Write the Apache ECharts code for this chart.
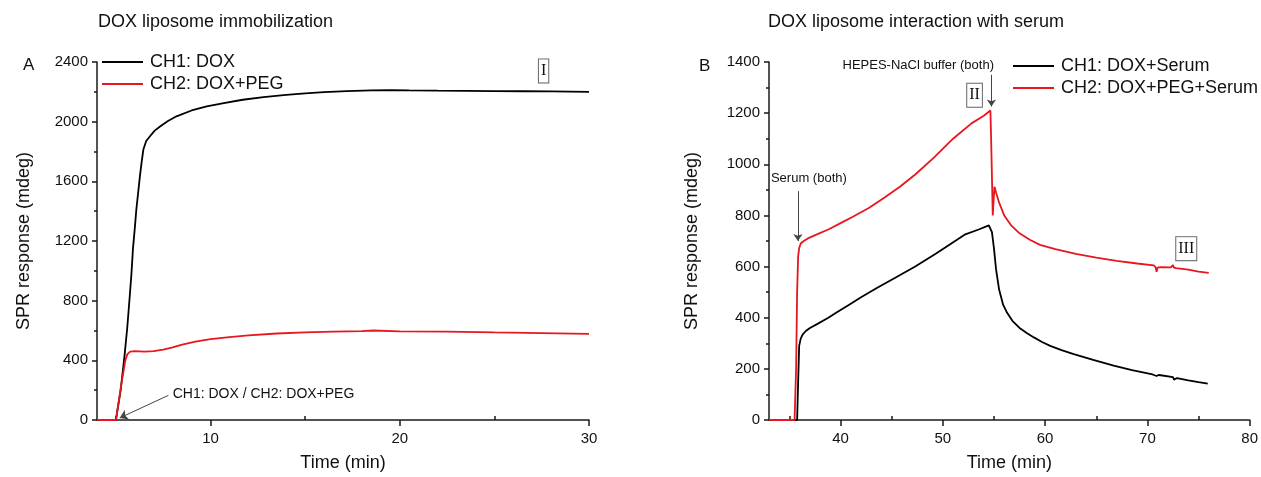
<!DOCTYPE html>
<html>
<head>
<meta charset="utf-8">
<script src="https://cdn.jsdelivr.net/npm/echarts@6/dist/echarts.min.js"></script>
<style>
html,body{margin:0;padding:0;background:#fff;}
#chart{width:1261px;height:477px;}
</style>
</head>
<body>
<div id="chart"></div>
<script>
// ---- Panel A: DOX liposome immobilization ----
const doxTime = [4, 5.0, 5.05, 5.25, 5.45, 5.6, 5.72, 5.82, 5.9, 6.0, 6.08, 6.18, 6.27, 6.36, 6.45, 6.6, 6.8, 7.05, 7.35, 7.75, 8.2, 9.0, 9.8, 10.7, 11.7, 12.8, 14, 15, 16, 17.2, 18.5, 19.5, 20.5, 22, 23.5, 25, 26.5, 28, 29, 30];
const doxResp = [0, 0, 0, 200, 425, 620, 813, 980, 1147, 1290, 1413, 1530, 1636, 1730, 1813, 1870, 1902, 1940, 1969, 2005, 2036, 2075, 2102, 2125, 2147, 2165, 2180, 2190, 2198, 2205, 2210, 2212, 2210, 2208, 2207, 2205, 2204, 2203, 2202, 2200];
const pegTime = [4, 5.0, 5.05, 5.3, 5.5, 5.6, 5.75, 6.0, 6.5, 7.0, 7.5, 8.0, 8.5, 9.2, 10, 11, 12, 13.5, 15, 16.5, 18, 18.6, 20, 22.5, 25, 27.5, 30];
const pegResp = [0, 0, 0, 250, 400, 440, 458, 462, 458, 462, 472, 487, 505, 525, 542, 556, 568, 580, 588, 593, 596, 600, 594, 592, 587, 583, 578];
const axisA_xLabels = [10, 20, 30];
const axisA_xMinor = [5, 15, 25];

// ---- Panel B: DOX liposome interaction with serum ----
const doxSerumTime = [33, 35.5, 35.75, 35.85, 35.95, 36.1, 36.3, 36.6, 37, 37.7, 38.8, 39.6, 40.8, 42, 43.5, 45.3, 47.3, 49.3, 51.2, 52.2, 53.5, 54.5, 54.65, 54.8, 55.0, 55.2, 55.5, 55.9, 56.3, 56.8, 57.5, 58.2, 58.9, 59.7, 60.5, 61.6, 62.8, 64.7, 66.7, 68.5, 70.5, 70.9, 71.0, 71.1, 71.3, 72.5, 72.6, 72.7, 72.9, 74, 75, 75.9];
const doxSerumResp = [0, 0, 0, 150, 290, 318, 335, 348, 360, 375, 400, 420, 450, 480, 515, 555, 600, 650, 700, 726, 745, 761, 758, 735, 670, 590, 510, 450, 418, 388, 360, 340, 323, 305, 290, 273, 258, 235, 213, 195, 178, 172, 166, 176, 175, 168, 158, 165, 164, 155, 148, 142];
const pegSerumTime = [33, 35.5, 35.65, 35.75, 35.85, 35.95, 36.1, 36.4, 36.8, 37.8, 38.8, 40, 41.2, 42.8, 44.3, 45.8, 47.3, 49.1, 51, 52.8, 54, 54.65, 54.72, 54.8, 54.88, 54.95, 55.05, 55.2, 55.5, 56, 56.7, 57.5, 58.5, 59.5, 61, 63, 65, 67, 69, 70.6, 70.8, 70.9, 71.0, 71.3, 72.3, 72.5, 72.6, 72.8, 74, 75, 76];
const pegSerumResp = [0, 0, 200, 500, 640, 672, 690, 700, 710, 728, 745, 770, 795, 830, 870, 912, 960, 1025, 1100, 1160, 1190, 1210, 1100, 950, 800, 850, 912, 890, 850, 800, 760, 730, 705, 685, 668, 650, 635, 622, 612, 605, 598, 580, 596, 598, 597, 606, 596, 594, 588, 580, 575];
const axisB_xLabels = [40, 50, 60, 70, 80];
const axisB_xMinor = [35, 45, 55, 65, 75];

const zip = (a, b) => a.map((x, i) => [x, b[i]]);

const BLACK = '#000000';
const RED = '#e8161e';
const FONT = 'Arial, "Liberation Sans", sans-serif';
const SERIF = '"Liberation Serif", "Times New Roman", serif';

const chart = echarts.init(document.getElementById('chart'), null, {renderer: 'canvas'});

const axisLineStyle = {lineStyle: {color: '#1a1a1a', width: 1.5}};
const tickStyle = {lineStyle: {color: '#1a1a1a', width: 1.5}};
const plain = v => String(v);

function xMain(grid, min, max, labels) {
  return {
    type: 'value', gridIndex: grid, min: min, max: max,
    name: 'Time (min)', nameLocation: 'middle', nameGap: 34,
    nameTextStyle: {fontFamily: FONT, fontSize: 18, color: '#111'},
    axisLine: {show: true, onZero: false, ...axisLineStyle},
    axisTick: {show: true, customValues: labels, length: 6, ...tickStyle},
    axisLabel: {customValues: labels, formatter: plain, fontFamily: FONT, fontSize: 15, color: '#111', margin: 11},
    splitLine: {show: false}
  };
}
function xMinor(grid, min, max, minors) {
  return {
    type: 'value', gridIndex: grid, min: min, max: max,
    axisLine: {show: false},
    axisTick: {show: true, customValues: minors, length: 4, ...tickStyle},
    axisLabel: {show: false},
    splitLine: {show: false}
  };
}
function yAxis(grid, max, interval, gap) {
  return {
    type: 'value', gridIndex: grid, min: 0, max: max, interval: interval,
    name: 'SPR response (mdeg)', nameLocation: 'middle', nameGap: gap,
    nameTextStyle: {fontFamily: FONT, fontSize: 18, color: '#111'},
    axisLine: {show: true, onZero: false, ...axisLineStyle},
    axisTick: {show: true, length: 5, ...tickStyle},
    minorTick: {show: true, splitNumber: 2, length: 3, lineStyle: {color: '#1a1a1a', width: 1.5}},
    axisLabel: {formatter: plain, fontFamily: FONT, fontSize: 15, color: '#111', margin: 9},
    splitLine: {show: false}
  };
}

function boxedLabel(coord, text) {
  return {
    coord: coord, value: text, symbol: 'rect', symbolSize: 0,
    label: {
      show: true, position: 'inside', formatter: text,
      fontFamily: SERIF, fontSize: 16, color: '#111',
      borderColor: '#666', borderWidth: 1, padding: [4, 2, 3, 2], backgroundColor: '#fff'
    }
  };
}
function plainLabel(coord, text, pos, size) {
  return {
    coord: coord, value: text, symbol: 'circle', symbolSize: 0,
    label: {show: true, position: pos, distance: 0, formatter: text, fontFamily: FONT, fontSize: size, color: '#111'}
  };
}

const option = {
  animation: false,
  backgroundColor: '#ffffff',
  title: [
    {text: 'DOX liposome immobilization', left: 98, top: 13, padding: 0,
     textStyle: {fontFamily: FONT, fontSize: 18, fontWeight: 'normal', color: '#111'}},
    {text: 'DOX liposome interaction with serum', left: 768, top: 13, padding: 0,
     textStyle: {fontFamily: FONT, fontSize: 18, fontWeight: 'normal', color: '#111'}}
  ],
  graphic: [
    {type: 'text', left: 23, top: 57, style: {text: 'A', font: '17px ' + FONT, fill: '#111'}},
    {type: 'text', left: 699, top: 58, style: {text: 'B', font: '17px ' + FONT, fill: '#111'}}
  ],
  legend: [
    {orient: 'vertical', left: 102, top: 53, padding: 0, itemGap: 4, itemWidth: 41, itemHeight: 2, icon: 'rect',
     data: ['CH1: DOX', 'CH2: DOX+PEG'],
     textStyle: {fontFamily: FONT, fontSize: 18, color: '#111', padding: [0, 0, 0, 2]}},
    {orient: 'vertical', left: 1013, top: 57, padding: 0, itemGap: 4, itemWidth: 41, itemHeight: 2, icon: 'rect',
     data: ['CH1: DOX+Serum', 'CH2: DOX+PEG+Serum'],
     textStyle: {fontFamily: FONT, fontSize: 18, color: '#111', padding: [0, 0, 0, 2]}}
  ],
  grid: [
    {left: 97, right: 1261 - 589, top: 62, bottom: 55},
    {left: 769, right: 5, top: 62, bottom: 55}
  ],
  xAxis: [
    xMain(0, 4, 30, axisA_xLabels),
    xMinor(0, 4, 30, axisA_xMinor),
    xMain(1, 33, 80, axisB_xLabels),
    xMinor(1, 33, 80, axisB_xMinor)
  ],
  yAxis: [
    yAxis(0, 2400, 400, 64),
    yAxis(1, 1400, 200, 68)
  ],
  series: [
    {name: 'CH1: DOX', type: 'line', xAxisIndex: 0, yAxisIndex: 0, data: zip(doxTime, doxResp),
     showSymbol: false, color: BLACK, lineStyle: {width: 1.8, color: BLACK}, z: 2,
     markLine: {silent: true, symbol: ['none', 'arrow'], symbolSize: 8, label: {show: false},
       lineStyle: {color: '#444', width: 1, type: 'solid'},
       data: [[{coord: [7.77, 165]}, {coord: [5.2, 14]}]]},
     markPoint: {silent: true, data: [
       plainLabel([8.0, 172], 'CH1: DOX / CH2: DOX+PEG', 'right', 14),
       boxedLabel([27.6, 2340], 'I')
     ]}},
    {name: 'CH2: DOX+PEG', type: 'line', xAxisIndex: 0, yAxisIndex: 0, data: zip(pegTime, pegResp),
     showSymbol: false, color: RED, lineStyle: {width: 1.8, color: RED}, z: 3},
    {name: 'CH1: DOX+Serum', type: 'line', xAxisIndex: 2, yAxisIndex: 1, data: zip(doxSerumTime, doxSerumResp),
     showSymbol: false, color: BLACK, lineStyle: {width: 1.8, color: BLACK}, z: 2,
     markLine: {silent: true, symbol: ['none', 'arrow'], symbolSize: 7, label: {show: false},
       lineStyle: {color: '#444', width: 1, type: 'solid'},
       data: [
         [{coord: [54.75, 1350]}, {coord: [54.75, 1226]}],
         [{coord: [35.83, 895]}, {coord: [35.83, 700]}]
       ]},
     markPoint: {silent: true, data: [
       plainLabel([55.0, 1385], 'HEPES-NaCl buffer (both)', 'left', 13),
       plainLabel([36.9, 945], 'Serum (both)', 'inside', 13),
       boxedLabel([53.1, 1270], 'II'),
       boxedLabel([73.8, 670], 'III')
     ]}},
    {name: 'CH2: DOX+PEG+Serum', type: 'line', xAxisIndex: 2, yAxisIndex: 1, data: zip(pegSerumTime, pegSerumResp),
     showSymbol: false, color: RED, lineStyle: {width: 1.8, color: RED}, z: 3}
  ]
};
chart.setOption(option);
</script>
</body>
</html>
